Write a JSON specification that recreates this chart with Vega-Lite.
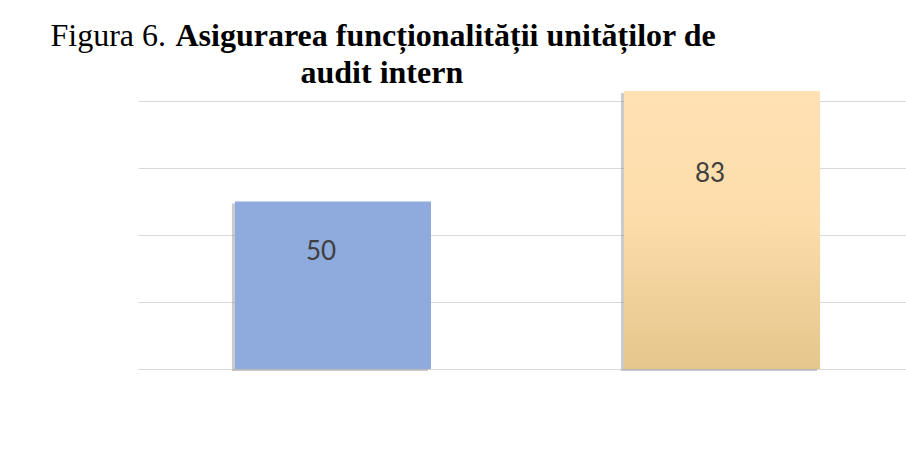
{
  "$schema": "https://vega.github.io/schema/vega-lite/v6.json",
  "width": 768,
  "height": 335,
  "autosize": {"type": "none"},
  "padding": {"left": 138, "top": 34, "right": 0, "bottom": 85},
  "background": "white",
  "config": {"view": {"stroke": null}},
  "data": {"values": [
    {"category": "A", "value": 50},
    {"category": "B", "value": 83}
  ]},
  "encoding": {
    "x": {
      "field": "category", "type": "nominal", "sort": null,
      "scale": {"paddingInner": 0.496, "paddingOuter": 0.235, "align": 0.53},
      "axis": {
        "orient": "top", "labels": false, "ticks": false, "domain": false, "grid": false,
        "title": "Asigurarea funcționalității unităților de",
        "titleFont": "Liberation Serif", "titleFontSize": 32, "titleFontWeight": "bold", "titleColor": "#000000",
        "titleX": 37, "titleY": 11, "titleAlign": "left", "titleBaseline": "alphabetic", "titleAngle": 0
      }
    }
  },
  "layer": [
    {
      "encoding": {
        "y": {
          "field": "value", "type": "quantitative",
          "scale": {"domain": [0, 100]},
          "axis": {
            "orient": "left", "values": [0, 20, 40, 60, 80],
            "grid": true, "gridColor": "#D9D9D9", "gridWidth": 1.2,
            "labels": false, "ticks": false, "domain": false,
            "title": "Figura 6.",
            "titleFont": "Liberation Serif", "titleFontSize": 32, "titleFontWeight": "normal", "titleColor": "#000000",
            "titleX": -88, "titleY": 11, "titleAlign": "left", "titleBaseline": "alphabetic", "titleAngle": 0
          }
        }
      },
      "layer": [
        {
          "mark": {"type": "bar", "fill": "#8c8c8c", "opacity": 0.45, "xOffset": -3, "yOffset": 2}
        },
        {
          "mark": {"type": "bar"},
          "encoding": {
            "fill": {
              "condition": {
                "test": "datum.category === 'B'",
                "value": {
                  "gradient": "linear", "x1": 0, "y1": 0, "x2": 0, "y2": 1,
                  "stops": [
                    {"offset": 0, "color": "#FFE1B4"},
                    {"offset": 0.45, "color": "#FDDDAA"},
                    {"offset": 1, "color": "#E5C68C"}
                  ]
                }
              },
              "value": "#8FAADC"
            }
          }
        }
      ]
    },
    {
      "mark": {"type": "text", "font": "Lato", "fontSize": 26, "color": "#404040", "dx": -12, "align": "center", "baseline": "middle"},
      "encoding": {
        "y": {
          "field": "value", "type": "quantitative",
          "scale": {"domain": [0, 142.857]},
          "axis": {
            "orient": "right", "grid": false, "labels": false, "ticks": false, "domain": false,
            "title": "audit intern",
            "titleFont": "Liberation Serif", "titleFontSize": 32, "titleFontWeight": "bold", "titleColor": "#000000",
            "titleX": -606, "titleY": 48, "titleAlign": "left", "titleBaseline": "alphabetic", "titleAngle": 0
          }
        },
        "text": {"field": "value", "type": "quantitative"}
      }
    }
  ],
  "resolve": {"scale": {"y": "independent"}}
}
